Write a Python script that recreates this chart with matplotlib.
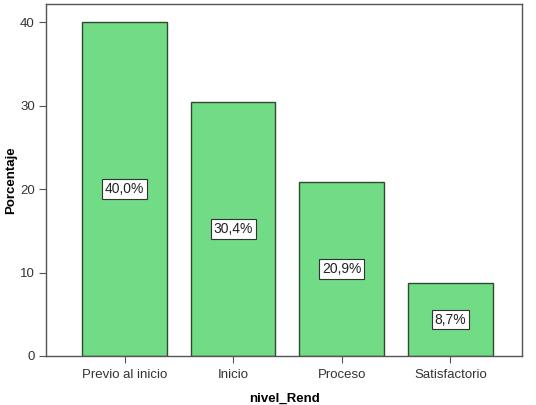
import numpy as np
import matplotlib.pyplot as plt

plt.rcParams['font.family'] = ['Liberation Sans', 'DejaVu Sans']

categorias = ["Previo al inicio", "Inicio", "Proceso", "Satisfactorio"]
porcentajes = [40.0, 30.4, 20.9, 8.7]
etiquetas = ["40,0%", "30,4%", "20,9%", "8,7%"]
yticks = [0, 10, 20, 30, 40]

fig = plt.figure(figsize=(5.36, 4.05), dpi=100)
ax = fig.add_axes([46/536, 1-356/405, 476/536, 352/405])

x = np.arange(len(categorias))
ax.bar(x, porcentajes, width=0.78, color='#72DB86', edgecolor='#2f4a2f', linewidth=1.0)

for xi, v, t in zip(x, porcentajes, etiquetas):
	ax.text(xi, v/2, t, ha='center', va='center', fontsize=10, color='#222222',
		bbox=dict(boxstyle='square,pad=0.2', facecolor='white', edgecolor='#333333', linewidth=0.8))

ax.set_xlim(-0.723, 3.66)
ax.set_ylim(0, 42.2)
ax.set_xticks(x)
ax.set_xticklabels(categorias, fontsize=9.5, color='#333333')
ax.set_yticks(yticks)
ax.set_yticklabels([str(t) for t in yticks], fontsize=9.5, color='#333333')
ax.tick_params(direction='out', length=5, color='#555555', pad=3)
ax.tick_params(axis='x', pad=4)
for s in ax.spines.values():
	s.set_color('#555555')
	s.set_linewidth(1.0)

ax.set_xlabel("nivel_Rend", fontsize=9.5, fontweight='bold', labelpad=9)
ax.set_ylabel("Porcentaje", fontsize=9.5, fontweight='bold')
ax.yaxis.set_label_coords(-29/476, 0.5)

plt.savefig("out.png", dpi=100)
